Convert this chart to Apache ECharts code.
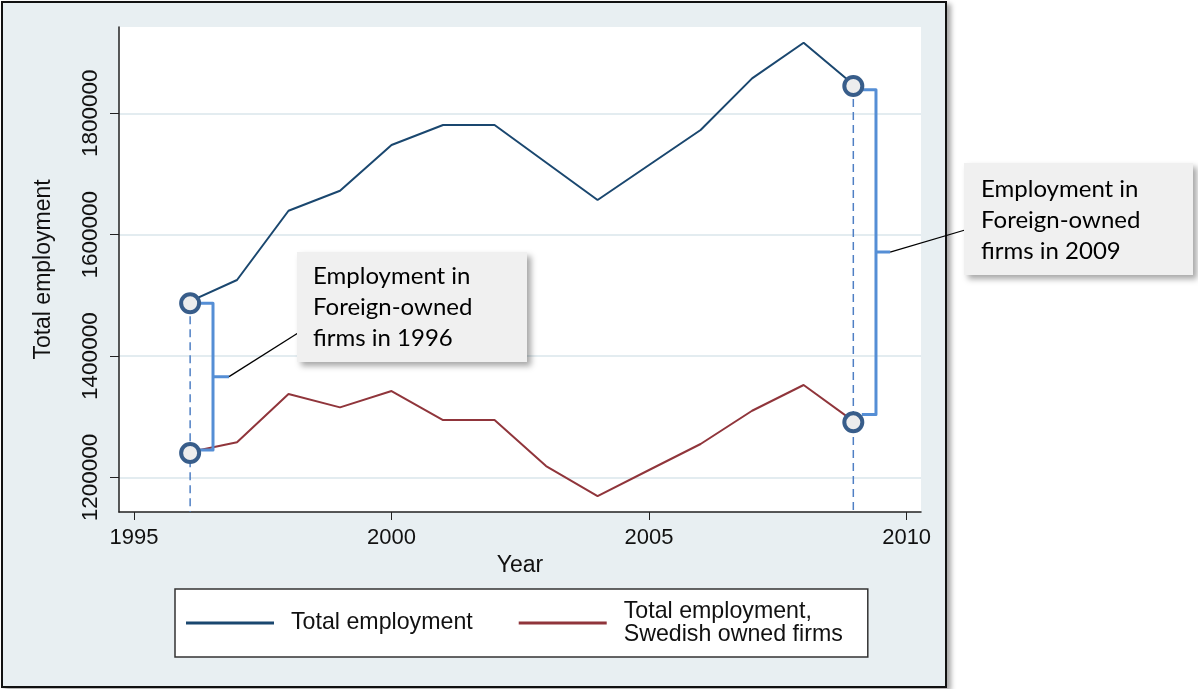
<!DOCTYPE html>
<html>
<head>
<meta charset="utf-8">
<script src="https://cdn.jsdelivr.net/npm/echarts@6/dist/echarts.min.js"></script>
<style>
  html, body { margin: 0; padding: 0; background: #fff; }
  #frame {
    position: absolute; left: 1px; top: 1px; width: 942px; height: 683px;
    background: #e8eff2; border: 2px solid #111;
    box-shadow: 4px 3px 5px rgba(0, 0, 0, 0.35);
  }
  #chart { position: absolute; left: 0; top: 0; width: 1198px; height: 689px; }
</style>
</head>
<body>
<div id="frame"></div>
<div id="chart"></div>
<script>
// values
const years = [1996, 1997, 1998, 1999, 2000, 2001, 2002, 2003, 2004, 2005, 2006, 2007, 2008, 2009]
const totalEmp = [1487000, 1525400, 1639500, 1672500, 1747800, 1780700, 1780700, 1719000, 1657200, 1714800, 1772500, 1857600, 1916300, 1845000]
const swedishEmp = [1240400, 1258000, 1337600, 1315600, 1342500, 1294700, 1294700, 1218900, 1169500, 1212400, 1255200, 1310000, 1352400, 1290900]
const xTicks = [1995, 2000, 2005, 2010]
const yTicks = [1200000, 1400000, 1600000, 1800000]
const seriesNames = ['Total employment', 'Total employment,\nSwedish owned firms']

// annotated years (first and last), offsets in years for the drawn brackets
const notes = [
  { idx: 0, circleDx: 0.09, armDx: 0.24, spineDx: 0.534, tipDx: 0.845, topIn: 0, botIn: 5000,
    box: [297, 252, 230, 110], textAt: [313, 261], anchor: [298, 333], text: 'Employment in\nForeign-owned\nfirms in 1996' },
  { idx: 13, circleDx: -0.035, armDx: 0.13, spineDx: 0.405, tipDx: 0.68, topIn: -6000, botIn: 13000,
    box: [964, 163, 229, 112], textAt: [981, 174], anchor: [965, 230], text: 'Employment in\nForeign-owned\nfirms in 2009' }
]

const yMin = 1143200
const yMax = 1942200
const xMin = 1994.709
const xMax = 2010.279

const navy = '#1a476f'
const maroon = '#90353b'
const noteBlue = '#558ed5'
const sans = 'Liberation Sans'

const chart = echarts.init(document.getElementById('chart'))

const series = [
  {
    name: seriesNames[0], type: 'line', symbol: 'none', z: 2,
    lineStyle: { color: navy, width: 2 }, itemStyle: { color: navy },
    data: years.map((y, i) => [y, totalEmp[i]])
  },
  {
    name: seriesNames[1], type: 'line', symbol: 'none', z: 2,
    lineStyle: { color: maroon, width: 2 }, itemStyle: { color: maroon },
    data: years.map((y, i) => [y, swedishEmp[i]])
  }
]

const circles = []
notes.forEach(n => {
  const yr = years[n.idx]
  const top = totalEmp[n.idx]
  const bot = swedishEmp[n.idx]
  const cx = yr + n.circleDx
  // dashed drop line
  series.push({
    type: 'line', symbol: 'none', silent: true, z: 3,
    lineStyle: { color: '#4f7fc4', width: 1.5, type: [8, 5] },
    data: [[cx, top], [cx, yMin]]
  })
  // bracket
  const yt = top + n.topIn
  const yb = bot + n.botIn
  const xs = yr + n.spineDx
  series.push({
    type: 'line', symbol: 'none', silent: true, z: 4,
    lineStyle: { color: noteBlue, width: 3, join: 'round' },
    data: [[yr + n.armDx, yt], [xs, yt], [xs, yb], [yr + n.armDx, yb]]
  })
  series.push({
    type: 'line', symbol: 'none', silent: true, z: 4,
    lineStyle: { color: noteBlue, width: 3 },
    data: [[xs, (yt + yb) / 2], [yr + n.tipDx, (yt + yb) / 2]]
  })
  circles.push([cx, top], [cx, bot])
})
series.push({
  type: 'scatter', silent: true, z: 10, symbolSize: 18,
  itemStyle: { color: '#ededed', borderColor: '#385d8a', borderWidth: 4, opacity: 1 },
  data: circles
})

const option = {
  animation: false,
  grid: {
    left: 119, top: 27, width: 802, height: 485,
    show: true, backgroundColor: '#fff', borderWidth: 0
  },
  xAxis: {
    type: 'value', min: xMin, max: xMax,
    name: 'Year', nameLocation: 'middle', nameGap: 38,
    nameTextStyle: { fontSize: 23, color: '#111', fontFamily: sans },
    axisLine: { show: true, lineStyle: { color: '#222', width: 1.5 } },
    axisTick: { show: true, length: 8, customValues: xTicks, lineStyle: { color: '#222', width: 1 } },
    axisLabel: {
      customValues: xTicks, margin: 15, fontSize: 22, color: '#111', fontFamily: sans,
      formatter: v => String(v)
    },
    splitLine: { show: false }
  },
  yAxis: {
    type: 'value', min: yMin, max: yMax,
    name: 'Total employment', nameLocation: 'middle', nameGap: 64,
    nameTextStyle: { fontSize: 23, color: '#111', fontFamily: sans },
    axisLine: { show: true, lineStyle: { color: '#222', width: 1.5 } },
    axisTick: { show: true, length: 9, customValues: yTicks, lineStyle: { color: '#222', width: 1 } },
    axisLabel: {
      customValues: yTicks, rotate: 90, margin: 17, fontSize: 22.5, color: '#111', fontFamily: sans,
      formatter: v => String(v)
    },
    splitLine: { show: true, lineStyle: { color: '#e3ecf0', width: 2 } }
  },
  legend: {
    data: seriesNames, selectedMode: false,
    left: 175, top: 589, orient: 'horizontal',
    icon: 'rect', itemWidth: 88, itemHeight: 3, itemGap: 46,
    padding: [11, 25, 11, 11],
    backgroundColor: '#fff', borderColor: '#333', borderWidth: 1.5,
    textStyle: { fontSize: 23.2, lineHeight: 23, color: '#111', fontFamily: sans, padding: [0, 0, 0, 12] }
  },
  series: series
}

chart.setOption(option)

// callout boxes with their leader lines
const graphics = []
notes.forEach(n => {
  const top = totalEmp[n.idx] + n.topIn
  const bot = swedishEmp[n.idx] + n.botIn
  const tip = chart.convertToPixel({ gridIndex: 0 }, [years[n.idx] + n.tipDx, (top + bot) / 2])
  graphics.push({
    type: 'line', z: 50, silent: true,
    shape: { x1: tip[0], y1: tip[1], x2: n.anchor[0], y2: n.anchor[1] },
    style: { stroke: '#000', lineWidth: 1.3 }
  })
  graphics.push({
    type: 'rect', z: 60, silent: true,
    shape: { x: n.box[0], y: n.box[1], width: n.box[2], height: n.box[3] },
    style: { fill: '#f0f0f0', shadowBlur: 6, shadowOffsetX: 4, shadowOffsetY: 4, shadowColor: 'rgba(0,0,0,0.35)' }
  })
  graphics.push({
    type: 'text', z: 70, silent: true,
    x: n.textAt[0], y: n.textAt[1],
    style: {
      text: n.text, fill: '#000', fontSize: 24, fontFamily: 'Lato',
      lineHeight: 31, verticalAlign: 'top', align: 'left'
    }
  })
})
chart.setOption({ graphic: graphics })
</script>
</body>
</html>
